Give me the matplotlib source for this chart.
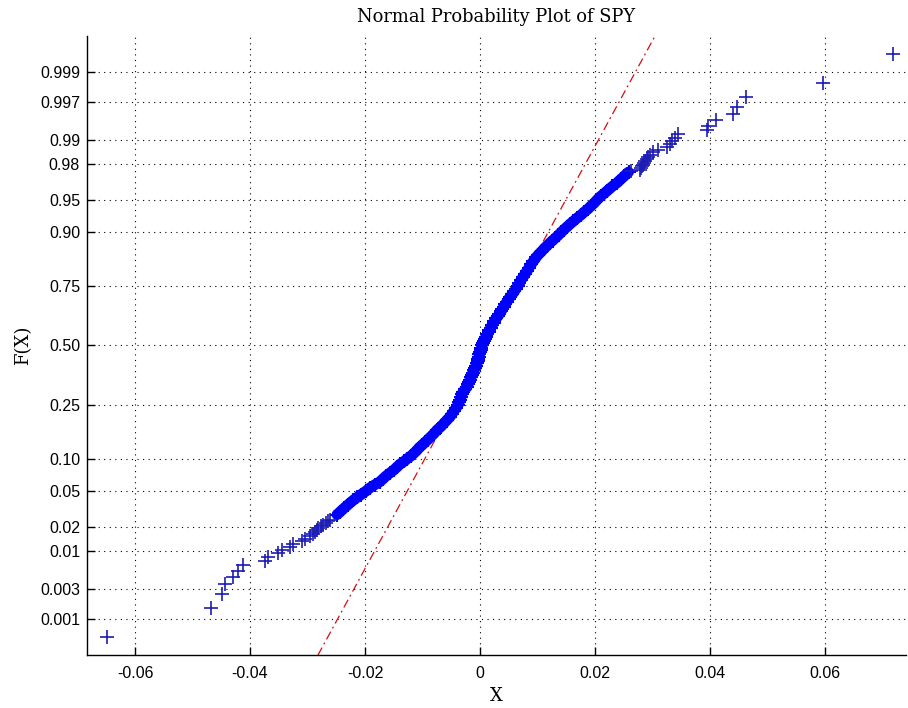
import numpy as np
import matplotlib
matplotlib.use("Agg")
import matplotlib.pyplot as plt
from statistics import NormalDist

# Data: sorted daily returns (X) and their plotting positions F(X)
# lower tail, single points
low_prob = [0.0005, 0.0015, 0.0025, 0.0035, 0.0045, 0.0055, 0.0065, 0.0075, 0.0085,
            0.0095, 0.0105, 0.0115, 0.0125, 0.0135, 0.0145, 0.0155, 0.0165, 0.0175,
            0.0185, 0.0195, 0.0205, 0.0215, 0.0225, 0.0235, 0.0245]
low_ret = [-0.06492, -0.04687, -0.04492, -0.04435, -0.04290, -0.04209, -0.04122, -0.03739,
           -0.03682, -0.03508, -0.03449, -0.03304, -0.03247, -0.03101, -0.03043, -0.02957,
           -0.02904, -0.02870, -0.02835, -0.02812, -0.02765, -0.02725, -0.02678, -0.02643,
           -0.02609]

# body of the distribution (dense band)
mid_prob = [0.028, 0.030, 0.033, 0.036, 0.040, 0.043, 0.046, 0.050, 0.054, 0.058,
            0.062, 0.066, 0.070, 0.075, 0.080, 0.085, 0.090, 0.095, 0.100, 0.106,
            0.112, 0.118, 0.124, 0.130, 0.137, 0.144, 0.152, 0.160, 0.170, 0.180,
            0.19, 0.20, 0.21, 0.22, 0.23, 0.24, 0.25, 0.26, 0.27, 0.28,
            0.29, 0.30, 0.31, 0.32, 0.33, 0.34, 0.35, 0.36, 0.37, 0.38,
            0.39, 0.40, 0.41, 0.42, 0.43, 0.44, 0.45, 0.46, 0.47, 0.48,
            0.49, 0.50, 0.51, 0.52, 0.53, 0.54, 0.55, 0.56, 0.57, 0.58,
            0.59, 0.60, 0.61, 0.62, 0.63, 0.64, 0.65, 0.66, 0.67, 0.68,
            0.69, 0.70, 0.71, 0.72, 0.73, 0.74, 0.75, 0.76, 0.77, 0.78,
            0.79, 0.80, 0.81, 0.82, 0.83, 0.84, 0.848, 0.856, 0.863, 0.87,
            0.876, 0.882, 0.888, 0.894, 0.90, 0.905, 0.91, 0.915, 0.92, 0.925,
            0.93, 0.934, 0.938, 0.942, 0.946, 0.95, 0.954, 0.957, 0.96, 0.964,
            0.967, 0.97, 0.972, 0.975]
mid_ret = [-0.02487, -0.02435, -0.02365, -0.02296, -0.02209, -0.02139, -0.02070, -0.01983, -0.01913, -0.01826,
           -0.01739, -0.01687, -0.01635, -0.01565, -0.01496, -0.01443, -0.01391, -0.01322, -0.01270, -0.01200,
           -0.01148, -0.01096, -0.01061, -0.01009, -0.00957, -0.00904, -0.00852, -0.00800, -0.00748, -0.00678,
           -0.00626, -0.00574, -0.00522, -0.00487, -0.00452, -0.00417, -0.00383, -0.00365, -0.00348, -0.00330,
           -0.00313, -0.00296, -0.00261, -0.00226, -0.00209, -0.00191, -0.00174, -0.00157, -0.00139, -0.00122,
           -0.00104, -0.00087, -0.00070, -0.00052, -0.00043, -0.00035, -0.00017, -0.00009, 0.00000, 0.00017,
           0.00026, 0.00035, 0.00052, 0.00070, 0.00087, 0.00104, 0.00130, 0.00148, 0.00165, 0.00191,
           0.00209, 0.00235, 0.00252, 0.00278, 0.00313, 0.00339, 0.00365, 0.00391, 0.00417, 0.00443,
           0.00470, 0.00496, 0.00530, 0.00565, 0.00600, 0.00626, 0.00661, 0.00687, 0.00713, 0.00748,
           0.00783, 0.00817, 0.00852, 0.00887, 0.00930, 0.00974, 0.01017, 0.01070, 0.01113, 0.01165,
           0.01209, 0.01261, 0.01313, 0.01365, 0.01417, 0.01461, 0.01513, 0.01565, 0.01626, 0.01687,
           0.01757, 0.01809, 0.01870, 0.01922, 0.01983, 0.02035, 0.02096, 0.02157, 0.02217, 0.02304,
           0.02383, 0.02452, 0.02504, 0.02583]

# upper tail, single points
high_prob = [0.9755, 0.9765, 0.9775, 0.9785, 0.9795, 0.9805, 0.9815, 0.9825, 0.9835,
             0.9845, 0.9855, 0.9865, 0.9875, 0.9885, 0.9895, 0.9905, 0.9915, 0.9925,
             0.9935, 0.9945, 0.9955, 0.9965, 0.9975, 0.9985, 0.9995]
high_ret = [0.02626, 0.02783, 0.02800, 0.02817, 0.02835, 0.02852, 0.02878, 0.02904, 0.02930,
            0.02957, 0.03009, 0.03096, 0.03252, 0.03304, 0.03339, 0.03391, 0.03443, 0.03943,
            0.03970, 0.04104, 0.04395, 0.04464, 0.04626, 0.05960, 0.07177]

# reference line (normal fit)
fit_mu = 0.00113
fit_sigma = 0.00838

xticks = [-0.06, -0.04, -0.02, 0, 0.02, 0.04, 0.06]
xticklabels = ["-0.06", "-0.04", "-0.02", "0", "0.02", "0.04", "0.06"]
yticks = [0.001, 0.003, 0.01, 0.02, 0.05, 0.10, 0.25, 0.50, 0.75, 0.90, 0.95, 0.98, 0.99, 0.997, 0.999]
yticklabels = ["0.001", "0.003", "0.01", "0.02", "0.05", "0.10", "0.25", "0.50",
               "0.75", "0.90", "0.95", "0.98", "0.99", "0.997", "0.999"]

nd = NormalDist()


def to_z(p):
    p = np.asarray(p, dtype=float)
    flat = np.clip(p.ravel(), 1e-12, 1 - 1e-12)
    out = np.array([nd.inv_cdf(v) if np.isfinite(v) else np.nan for v in flat])
    return out.reshape(p.shape)


def from_z(z):
    z = np.asarray(z, dtype=float)
    flat = z.ravel()
    out = np.array([nd.cdf(v) if np.isfinite(v) else np.nan for v in flat])
    return out.reshape(z.shape)


plt.rcParams["axes.unicode_minus"] = False

fig = plt.figure(figsize=(9.08, 7.08), dpi=100)
ax = fig.add_axes([87 / 908, 53 / 708, 819 / 908, 619 / 708])
ax.set_yscale("function", functions=(to_z, from_z))

# dense middle: the overlapping markers form a solid band
ax.plot(mid_ret, mid_prob, "-", color="#0000ff", lw=7.8, solid_capstyle="round", zorder=3)
ax.plot(mid_ret, mid_prob, "+", color="#0000ff", markersize=10, markeredgewidth=1.5, zorder=3)
ax.plot(low_ret + high_ret, low_prob + high_prob, "+", color="#1c1cb4",
        markersize=10, markeredgewidth=1.2, zorder=3)

# dash-dot reference line across the whole y range
zz = np.array([-3.5, 3.5])
ax.plot(fit_mu + fit_sigma * zz, from_z(zz), color="#d01010", lw=0.9,
        ls=(0, (7, 3, 1.5, 3)), zorder=2)

ax.set_xlim(-0.06835, 0.07409)
ax.set_ylim(nd.cdf(-3.497), nd.cdf(3.497))
ax.set_xticks(xticks)
ax.set_xticklabels(xticklabels)
ax.set_yticks(yticks)
ax.set_yticklabels(yticklabels)
ax.minorticks_off()

ax.grid(True, color="black", ls=(0, (1, 4)), lw=0.8)
for s in ["top", "right"]:
    ax.spines[s].set_visible(False)
for s in ["left", "bottom"]:
    ax.spines[s].set_linewidth(1.0)
ax.tick_params(direction="in", length=6, width=1.0, labelsize=11.5)
ax.tick_params(axis="x", pad=8)
ax.tick_params(axis="y", pad=5)
for lab in ax.get_xticklabels() + ax.get_yticklabels():
    lab.set_family("Liberation Sans")

ax.set_title("Normal Probability Plot of SPY", family="DejaVu Serif", fontsize=12.9, pad=10)
ax.set_xlabel("X", family="DejaVu Serif", fontsize=13, labelpad=4)
ax.set_ylabel("F(X)", family="DejaVu Serif", fontsize=13, labelpad=6)

plt.savefig("out.png", dpi=100)
